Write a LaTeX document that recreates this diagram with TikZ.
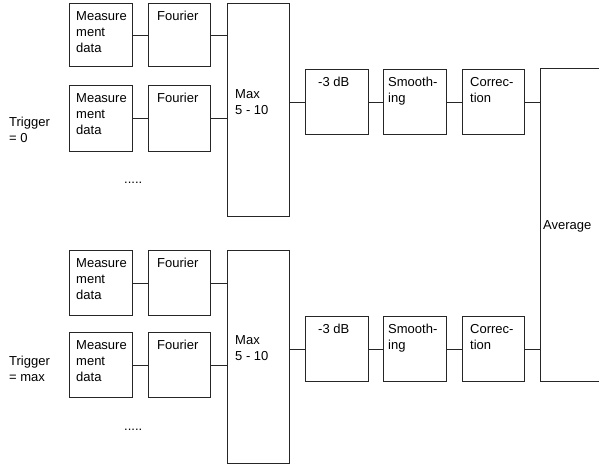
\documentclass[tikz,border=0pt]{standalone}
\usepackage{fontspec}
\setmainfont{Liberation Sans}
\begin{document}
\begin{tikzpicture}[x=1pt,y=-1pt,
  box/.style={draw=black!85,line width=0.9pt,anchor=north west,inner sep=0pt,minimum width=#1},
  box/.default=63pt,
  lbl/.style={anchor=base west,inner sep=0pt,align=left,font=\fontsize{13}{16}\selectfont},
  wire/.style={draw=black!85,line width=0.9pt}]
\useasboundingbox (0,0) rectangle (599,469);
\clip (0,0) rectangle (599,469);
% ---- top group
\node[box,minimum height=63pt] (m1) at (69,3) {};
\node[box=62pt,minimum height=63pt] (f1) at (148,3) {};
\node[box,minimum height=66pt] (m2) at (69,85) {};
\node[box=62pt,minimum height=66pt] (f2) at (148,85) {};
\node[box=62pt,minimum height=213pt] (mx1) at (227,3) {};
\node[box,minimum height=65pt] (d1) at (305,69) {};
\node[box,minimum height=65pt] (s1) at (383,69) {};
\node[box=62pt,minimum height=65pt] (c1) at (462,69) {};
% ---- bottom group
\node[box,minimum height=65pt] (m3) at (69,250) {};
\node[box=62pt,minimum height=65pt] (f3) at (148,250) {};
\node[box,minimum height=65pt] (m4) at (69,332) {};
\node[box=62pt,minimum height=65pt] (f4) at (148,332) {};
\node[box=62pt,minimum height=213pt] (mx2) at (227,250) {};
\node[box,minimum height=65pt] (d2) at (305,316) {};
\node[box,minimum height=65pt] (s2) at (383,316) {};
\node[box=62pt,minimum height=65pt] (c2) at (462,316) {};
% ---- average
\node[box=90pt,minimum height=313pt] (av) at (540,68) {};
% ---- labels (base anchor = baseline of the last line)
\node[lbl] (m1t) at (76,52) {Measure\\ment\\data};
\node[lbl] (m2t) at (76,134) {Measure\\ment\\data};
\node[lbl] (m3t) at (76,299) {Measure\\ment\\data};
\node[lbl] (m4t) at (76,381) {Measure\\ment\\data};
\node[lbl] (f1t) at (157,20) {Fourier};
\node[lbl] (f2t) at (157,102) {Fourier};
\node[lbl] (f3t) at (157,267) {Fourier};
\node[lbl] (f4t) at (157,349) {Fourier};
\node[lbl] (mx1t) at (235,114) {Max\\5 - 10};
\node[lbl] (mx2t) at (235,360) {Max\\5 - 10};
\node[lbl] (d1t) at (318,86) {-3 dB};
\node[lbl] (d2t) at (318,333) {-3 dB};
\node[lbl] (s1t) at (388,102) {Smooth-\\ing};
\node[lbl] (s2t) at (388,349) {Smooth-\\ing};
\node[lbl] (c1t) at (470,102) {Correc-\\tion};
\node[lbl] (c2t) at (470,349) {Correc-\\tion};
\node[lbl] (avt) at (543,229) {Average};
\node[lbl] (tr1) at (9,142) {Trigger\\= 0};
\node[lbl] (tr2) at (9,381) {Trigger\\= max};
\node[lbl] (dots1) at (124,183) {.....};
\node[lbl] (dots2) at (124,430) {.....};
% ---- connectors
\draw[wire] (m1.east) -- (f1.west);
\draw[wire] (m2.east) -- (f2.west);
\draw[wire] (m3.east) -- (f3.west);
\draw[wire] (m4.east) -- (f4.west);
\draw[wire] (f1.east) -- (f1.east -| mx1.west);
\draw[wire] (f2.east) -- (f2.east -| mx1.west);
\draw[wire] (f3.east) -- (f3.east -| mx2.west);
\draw[wire] (f4.east) -- (f4.east -| mx2.west);
\draw[wire] (d1.west -| mx1.east) -- (d1.west);
\draw[wire] (d2.west -| mx2.east) -- (d2.west);
\draw[wire] (d1.east) -- (s1.west);
\draw[wire] (s1.east) -- (c1.west);
\draw[wire] (d2.east) -- (s2.west);
\draw[wire] (s2.east) -- (c2.west);
\draw[wire] (c1.east) -- (c1.east -| av.west);
\draw[wire] (c2.east) -- (c2.east -| av.west);
\end{tikzpicture}
\end{document}
